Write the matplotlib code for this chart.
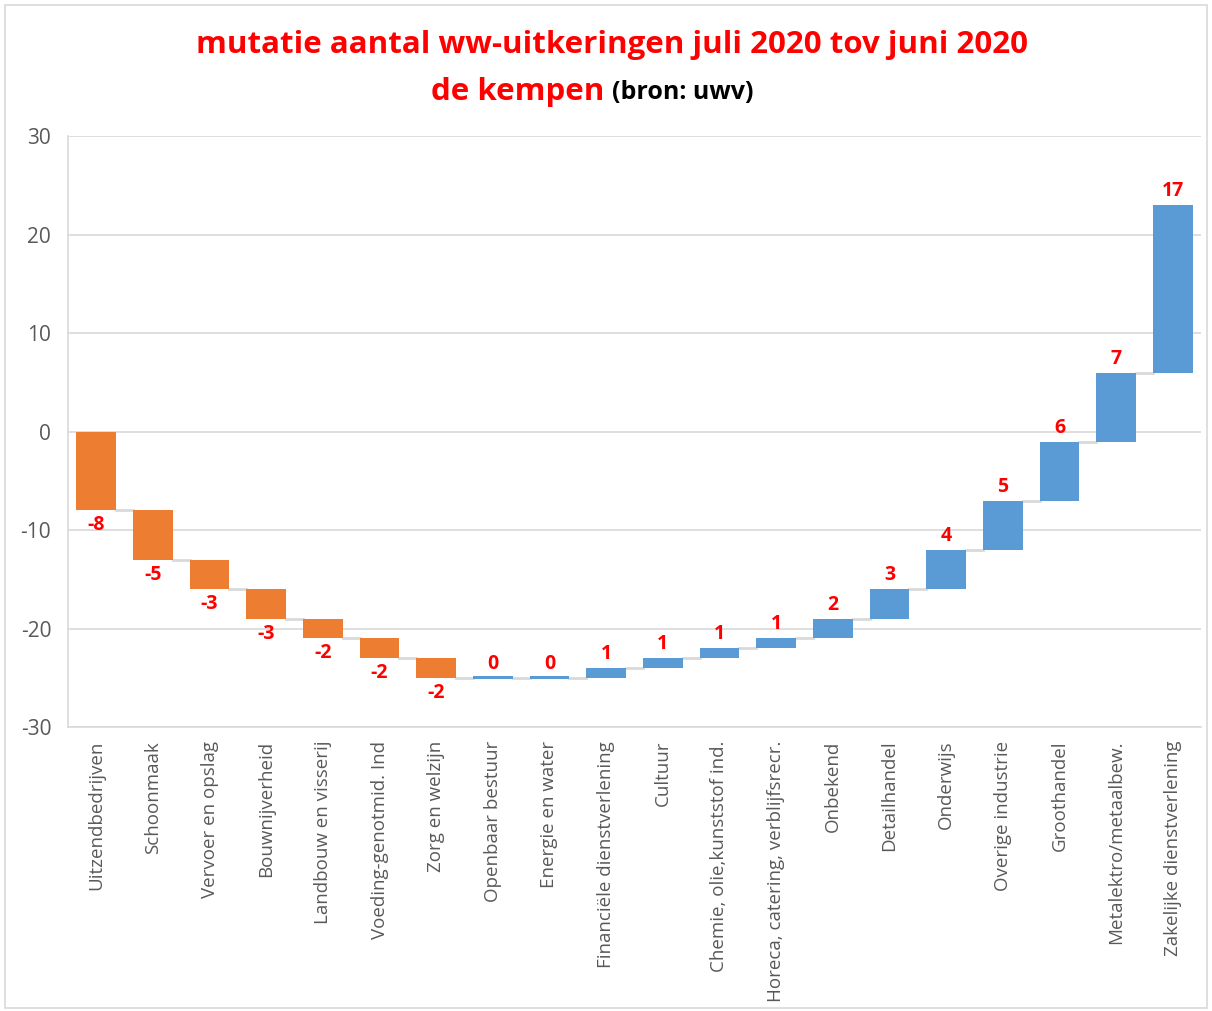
import numpy as np
import matplotlib.pyplot as plt
from matplotlib.patches import Rectangle

plt.rcParams['font.family'] = ['Open Sans', 'DejaVu Sans']
plt.rcParams['axes.unicode_minus'] = False

# categorieen en mutaties
categories = ['Uitzendbedrijven', 'Schoonmaak', 'Vervoer en opslag', 'Bouwnijverheid',
              'Landbouw en visserij', 'Voeding-genotmid. Ind', 'Zorg en welzijn',
              'Openbaar bestuur', 'Energie en water', 'Financiële dienstverlening',
              'Cultuur', 'Chemie, olie,kunststof ind.', 'Horeca, catering, verblijfsrecr.',
              'Onbekend', 'Detailhandel', 'Onderwijs', 'Overige industrie', 'Groothandel',
              'Metalektro/metaalbew.', 'Zakelijke dienstverlening']
values = [-8, -5, -3, -3, -2, -2, -2, 0, 0, 1, 1, 1, 1, 2, 3, 4, 5, 6, 7, 17]

orange = '#ED7D31'
blue = '#5B9BD5'

fig = plt.figure(figsize=(12.12, 10.11), dpi=100)
fig.patches.append(Rectangle((0.004, 0.003), 0.992, 0.992, transform=fig.transFigure,
                             fill=False, edgecolor='#d9d9d9', lw=1.2))
ax = fig.add_axes([0.056, 0.281, 0.935, 0.584])

cum = np.concatenate([[0], np.cumsum(values)])
x = np.arange(len(values))
w = 0.7
for i, v in enumerate(values):
    start = cum[i]
    end = cum[i + 1]
    col = orange if v < 0 else blue
    h = end - start
    if h == 0:
        h = 0.25
        start = start - 0.12
    ax.bar(i, h, bottom=start, width=w, color=col, zorder=3)
    # verbindingslijn
    if i < len(values) - 1:
        ax.plot([i + w / 2, i + 1 - w / 2], [end, end], color='#d9d9d9', lw=2, zorder=2)
    if v < 0:
        ax.text(i, end - 0.5, str(v), ha='center', va='top', color='red',
                fontsize=14, fontweight='bold')
    else:
        ax.text(i, end + 0.4, str(v), ha='center', va='bottom', color='red',
                fontsize=14, fontweight='bold')

ax.set_xlim(-0.5, len(values) - 0.5)
ax.set_ylim(-30, 30)
ax.set_yticks([-30, -20, -10, 0, 10, 20, 30])
ax.tick_params(axis='y', length=0, labelsize=15, labelcolor='#595959', pad=12)
ax.set_xticks(x)
ax.set_xticklabels(categories, rotation=90, fontsize=13.5, color='#595959')
ax.tick_params(axis='x', length=0, pad=10)
ax.grid(axis='y', color='#d9d9d9', lw=1.2, zorder=0)
for s in ['top', 'right']:
    ax.spines[s].set_visible(False)
ax.spines['left'].set_color('#d9d9d9')
ax.spines['bottom'].set_color('#d9d9d9')
ax.spines['left'].set_linewidth(1.2)
ax.spines['bottom'].set_linewidth(1.2)

fig.text(0.505, 0.955, 'mutatie aantal ww-uitkeringen juli 2020 tov juni 2020',
         ha='center', va='center', color='red', fontsize=22.5, fontweight='bold')
fig.text(0.505, 0.909, 'de kempen ', ha='right', va='center', color='red',
         fontsize=22.5, fontweight='bold')
fig.text(0.505, 0.909, '(bron: uwv)', ha='left', va='center', color='black',
         fontsize=18, fontweight='bold')

fig.savefig('out.png', dpi=100)
